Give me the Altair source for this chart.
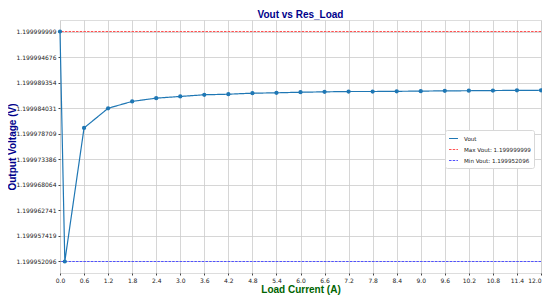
import altair as alt
import pandas as pd

load_current = [0.0, 0.12, 0.6, 1.2, 1.8, 2.4, 3.0, 3.6, 4.2, 4.8, 5.4, 6.0,
                6.6, 7.2, 7.8, 8.4, 9.0, 9.6, 10.2, 10.8, 11.4, 12.0]
vout = [1.199999999, 1.199952096, 1.19997991, 1.19998401, 1.19998544, 1.19998612,
        1.19998647, 1.19998682, 1.19998694, 1.19998715, 1.19998723, 1.19998735,
        1.19998743, 1.19998750, 1.19998750, 1.19998754, 1.19998758, 1.19998764,
        1.19998766, 1.19998770, 1.19998774, 1.19998776]
y_ticks = [1.199999999, 1.199994676, 1.199989354, 1.199984031, 1.199978709,
           1.199973386, 1.199968064, 1.199962741, 1.199957419, 1.199952096]
x_ticks = [0.0, 0.6, 1.2, 1.8, 2.4, 3.0, 3.6, 4.2, 4.8, 5.4, 6.0, 6.6, 7.2,
           7.8, 8.4, 9.0, 9.6, 10.2, 10.8, 11.4, 12.0]
v_max = 1.199999999
v_min = 1.199952096
series_names = ["Vout", "Max Vout: 1.199999999", "Min Vout: 1.199952096"]
series_colors = ["#1f77b4", "#ff5050", "#5050ff"]
series_dash = [[1, 0], [2.5, 1.2], [2.5, 1.2]]

span = v_max - v_min
y_domain = [v_min - 0.05 * span, v_max + 0.05 * span]

df = pd.DataFrame({"current": load_current, "vout": vout, "series": series_names[0]})
df_lim = pd.DataFrame({"value": [v_max, v_min], "series": series_names[1:]})

W, H = 481, 253

x_enc = alt.X("current:Q",
              scale=alt.Scale(domain=[0, 12], nice=False, zero=False),
              axis=alt.Axis(values=x_ticks, tickCount=40, format=".1f",
                            title="Load Current (A)",
                            titleColor="darkgreen", titleFont="Liberation Sans",
                            titleFontSize=10, titleFontWeight="bold", titlePadding=1,
                            labelFont="DejaVu Sans", labelFontSize=6, labelColor="#222",
                            tickSize=2, tickColor="#444", labelPadding=2,
                            labelOverlap=False,
                            labelAlign=alt.expr("datum.value >= 12 ? 'right' : 'center'"),
                            domain=False, grid=True, gridColor="#cccccc",
                            gridWidth=0.8, labelFlush=False))
y_scale = alt.Scale(domain=y_domain, nice=False, zero=False)
y_axis = alt.Axis(values=y_ticks, tickCount=40, format=".9f",
                  title="Output Voltage (V)",
                  titleColor="darkblue", titleFont="Liberation Sans",
                  titleFontSize=10, titleFontWeight="bold",
                  titleX=-45, titleY=H / 2, titleBaseline="alphabetic",
                  titleAlign="center", titleAngle=270,
                  labelFont="DejaVu Sans", labelFontSize=6, labelColor="#222",
                  tickSize=2, tickColor="#444", labelPadding=2,
                  labelOverlap=False,
                  domain=False, grid=True, gridColor="#cccccc", gridWidth=0.8)

color = alt.Color("series:N",
                  scale=alt.Scale(domain=series_names, range=series_colors),
                  sort=series_names,
                  legend=alt.Legend(title=None, orient="none", legendX=385, legendY=110,
                                    fillColor="white", strokeColor="#d8d8d8",
                                    padding=3, cornerRadius=2, labelFontSize=5.6,
                                    labelFont="DejaVu Sans", labelColor="#222",
                                    symbolType="stroke", symbolSize=80,
                                    symbolStrokeWidth=1.2, rowPadding=1,
                                    labelOffset=5))
dash = alt.StrokeDash("series:N",
                      scale=alt.Scale(domain=series_names, range=series_dash),
                      sort=series_names, legend=None)

line = alt.Chart(df).mark_line(strokeWidth=1.2).encode(
    x=x_enc, y=alt.Y("vout:Q", scale=y_scale, axis=y_axis),
    color=color, strokeDash=dash)
points = alt.Chart(df).mark_circle(size=18, opacity=1, color="#1f77b4").encode(
    x="current:Q", y="vout:Q")
rules = alt.Chart(df_lim).mark_rule(strokeWidth=1.2).encode(
    y=alt.Y("value:Q", scale=y_scale), color=color, strokeDash=dash)

chart = alt.layer(rules, line, points).properties(
    width=W, height=H,
    title=alt.TitleParams("Vout vs Res_Load", font="Liberation Sans", fontSize=10,
                          fontWeight="bold", color="darkblue", offset=0,
                          anchor="middle"),
    padding={"left": 52, "top": 12, "right": 1, "bottom": 26},
    autosize=alt.AutoSizeParams(type="none"),
).configure_view(stroke="#808080", strokeWidth=1.5).configure(background="white")

chart.save("out.html", embed_options={"renderer": "svg", "actions": False})
